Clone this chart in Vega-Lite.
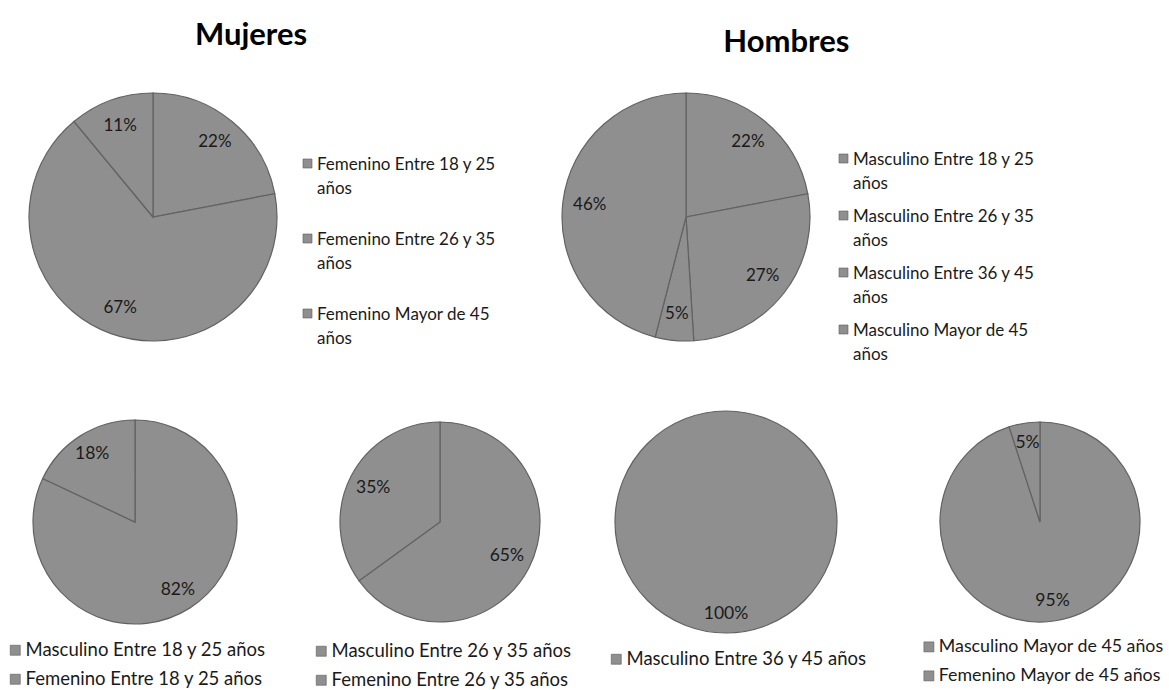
{
  "$schema": "https://vega.github.io/schema/vega-lite/v6.json",
  "background": "white",
  "padding": {"left": 6, "top": 19, "right": 0, "bottom": 0},
  "config": {
    "view": {"stroke": null},
    "font": "Lato",
    "legend": {"labelFont": "Lato", "labelColor": "#1a1a1a", "symbolType": "square", "symbolStrokeColor": "#5a5a5a", "symbolStrokeWidth": 0.6, "title": null, "padding": 0, "labelLimit": 500, "labelOffset": 1}
  },
  "data": {
    "values": [
      {"panel": "M", "cat": "Femenino Entre 18 y 25 años", "pct": 0.22, "orden": 1},
      {"panel": "M", "cat": "Femenino Entre 26 y 35 años", "pct": 0.67, "orden": 2},
      {"panel": "M", "cat": "Femenino Mayor de 45 años", "pct": 0.11, "orden": 3},
      {"panel": "H", "cat": "Masculino Entre 18 y 25 años", "pct": 0.22, "orden": 1},
      {"panel": "H", "cat": "Masculino Entre 26 y 35 años", "pct": 0.27, "orden": 2},
      {"panel": "H", "cat": "Masculino Entre 36 y 45 años", "pct": 0.05, "orden": 3},
      {"panel": "H", "cat": "Masculino Mayor de 45 años", "pct": 0.46, "orden": 4},
      {"panel": "P1", "cat": "Masculino Entre 18 y 25 años", "pct": 0.82, "orden": 1},
      {"panel": "P1", "cat": "Femenino Entre 18 y 25 años", "pct": 0.18, "orden": 2},
      {"panel": "P2", "cat": "Masculino Entre 26 y 35 años", "pct": 0.65, "orden": 1},
      {"panel": "P2", "cat": "Femenino Entre 26 y 35 años", "pct": 0.35, "orden": 2},
      {"panel": "P3", "cat": "Masculino Entre 36 y 45 años", "pct": 1.0, "orden": 1},
      {"panel": "P4", "cat": "Masculino Mayor de 45 años", "pct": 0.95, "orden": 1},
      {"panel": "P4", "cat": "Femenino Mayor de 45 años", "pct": 0.05, "orden": 2}
    ]
  },
  "spacing": 45,
  "resolve": {"scale": {"color": "independent", "theta": "independent"}, "legend": {"color": "independent"}},
  "vconcat": [
    {
      "bounds": "flush",
      "spacing": 262,
      "resolve": {"scale": {"color": "independent", "theta": "independent"}, "legend": {"color": "independent"}},
      "hconcat": [
        {
          "title": {"text": "Mujeres", "fontSize": 31, "fontWeight": "bold", "color": "#000000", "frame": "bounds", "anchor": "middle", "offset": 39},
          "width": 294, "height": 248,
          "transform": [{"filter": "datum.panel == 'M'"}],
          "encoding": {
            "theta": {"field": "pct", "type": "quantitative", "stack": true},
            "order": {"field": "orden", "type": "quantitative"},
            "color": {"field": "cat", "type": "nominal",
              "scale": {"domain": ["Femenino Entre 18 y 25 años", "Femenino Entre 26 y 35 años", "Femenino Mayor de 45 años"], "range": ["#8f8f8f", "#8f8f8f", "#8f8f8f"]},
              "legend": {"orient": "none", "legendX": 293, "legendY": 62, "labelFontSize": 17, "symbolSize": 81, "rowPadding": 33, "labelBaseline": "top",
                "labelExpr": "[replace(datum.label, ' años', ''), 'años']",
                "encode": {"labels": {"update": {"lineHeight": {"value": 24}, "dy": {"value": -7}}}}}}
          },
          "layer": [
            {"mark": {"type": "arc", "outerRadius": 124, "stroke": "#626262", "strokeWidth": 1.2}},
            {"mark": {"type": "text", "radius": 97, "fontSize": 17},
             "encoding": {"text": {"field": "pct", "type": "quantitative", "format": ".0%"}, "color": {"value": "#1a1a1a"}, "detail": {"field": "cat", "type": "nominal"}}}
          ]
        },
        {
          "title": {"text": "Hombres", "fontSize": 31, "fontWeight": "bold", "color": "#000000", "frame": "bounds", "anchor": "middle", "offset": 32, "dx": -11},
          "width": 248, "height": 248,
          "transform": [{"filter": "datum.panel == 'H'"}],
          "encoding": {
            "theta": {"field": "pct", "type": "quantitative", "stack": true},
            "order": {"field": "orden", "type": "quantitative"},
            "color": {"field": "cat", "type": "nominal",
              "scale": {"domain": ["Masculino Entre 18 y 25 años", "Masculino Entre 26 y 35 años", "Masculino Entre 36 y 45 años", "Masculino Mayor de 45 años"], "range": ["#8f8f8f", "#8f8f8f", "#8f8f8f", "#8f8f8f"]},
              "legend": {"orient": "none", "legendX": 273, "legendY": 57, "labelFontSize": 17, "symbolSize": 81, "rowPadding": 15, "labelBaseline": "top",
                "labelExpr": "[replace(datum.label, ' años', ''), 'años']",
                "encode": {"labels": {"update": {"lineHeight": {"value": 24}, "dy": {"value": -7}}}}}}
          },
          "layer": [
            {"mark": {"type": "arc", "outerRadius": 124, "stroke": "#626262", "strokeWidth": 1.2}},
            {"mark": {"type": "text", "radius": 97, "fontSize": 17},
             "encoding": {"text": {"field": "pct", "type": "quantitative", "format": ".0%"}, "color": {"value": "#1a1a1a"}, "detail": {"field": "cat", "type": "nominal"}}}
          ]
        }
      ]
    },
    {
      "bounds": "flush",
      "spacing": 83,
      "resolve": {"scale": {"color": "independent", "theta": "independent"}, "legend": {"color": "independent"}},
      "hconcat": [
        {
          "width": 258, "height": 222,
          "transform": [{"filter": "datum.panel == 'P1'"}],
          "encoding": {
            "theta": {"field": "pct", "type": "quantitative", "stack": true},
            "order": {"field": "orden", "type": "quantitative"},
            "color": {"field": "cat", "type": "nominal",
              "scale": {"domain": ["Masculino Entre 18 y 25 años", "Femenino Entre 18 y 25 años"], "range": ["#8f8f8f", "#8f8f8f"]},
              "legend": {"orient": "none", "legendX": 0, "legendY": 230, "labelFontSize": 18.5, "symbolSize": 100, "rowPadding": 10}}
          },
          "layer": [
            {"mark": {"type": "arc", "outerRadius": 102, "stroke": "#626262", "strokeWidth": 1.2}},
            {"mark": {"type": "text", "radius": 80, "fontSize": 17.5},
             "encoding": {"text": {"field": "pct", "type": "quantitative", "format": ".0%"}, "color": {"value": "#1a1a1a"}, "detail": {"field": "cat", "type": "nominal"}}}
          ]
        },
        {
          "width": 186, "height": 222,
          "transform": [{"filter": "datum.panel == 'P2'"}],
          "encoding": {
            "theta": {"field": "pct", "type": "quantitative", "stack": true},
            "order": {"field": "orden", "type": "quantitative"},
            "color": {"field": "cat", "type": "nominal",
              "scale": {"domain": ["Masculino Entre 26 y 35 años", "Femenino Entre 26 y 35 años"], "range": ["#8f8f8f", "#8f8f8f"]},
              "legend": {"orient": "none", "legendX": -35, "legendY": 231, "labelFontSize": 18.5, "symbolSize": 100, "rowPadding": 10}}
          },
          "layer": [
            {"mark": {"type": "arc", "outerRadius": 100, "stroke": "#626262", "strokeWidth": 1.2}},
            {"mark": {"type": "text", "radius": 75, "fontSize": 17.5},
             "encoding": {"text": {"field": "pct", "type": "quantitative", "format": ".0%"}, "color": {"value": "#1a1a1a"}, "detail": {"field": "cat", "type": "nominal"}}}
          ]
        },
        {
          "width": 220, "height": 222,
          "transform": [{"filter": "datum.panel == 'P3'"}],
          "encoding": {
            "theta": {"field": "pct", "type": "quantitative", "stack": true},
            "order": {"field": "orden", "type": "quantitative"},
            "color": {"field": "cat", "type": "nominal",
              "scale": {"domain": ["Masculino Entre 36 y 45 años"], "range": ["#8f8f8f"]},
              "legend": {"orient": "none", "legendX": -9, "legendY": 239, "labelFontSize": 18.5, "symbolSize": 100, "rowPadding": 10}}
          },
          "layer": [
            {"mark": {"type": "arc", "outerRadius": 111, "stroke": "#626262", "strokeWidth": 1.2}},
            {"mark": {"type": "text", "radius": 92, "fontSize": 17.5},
             "encoding": {"text": {"field": "pct", "type": "quantitative", "format": ".0%"}, "color": {"value": "#1a1a1a"}, "detail": {"field": "cat", "type": "nominal"}}}
          ]
        },
        {
          "width": 242, "height": 222,
          "transform": [{"filter": "datum.panel == 'P4'"}],
          "encoding": {
            "theta": {"field": "pct", "type": "quantitative", "stack": true},
            "order": {"field": "orden", "type": "quantitative"},
            "color": {"field": "cat", "type": "nominal",
              "scale": {"domain": ["Masculino Mayor de 45 años", "Femenino Mayor de 45 años"], "range": ["#8f8f8f", "#8f8f8f"]},
              "legend": {"orient": "none", "legendX": 1, "legendY": 227, "labelFontSize": 17.8, "symbolSize": 100, "rowPadding": 10}}
          },
          "layer": [
            {"mark": {"type": "arc", "outerRadius": 100, "stroke": "#626262", "strokeWidth": 1.2}},
            {"mark": {"type": "text", "radius": 80, "fontSize": 17.5},
             "encoding": {"text": {"field": "pct", "type": "quantitative", "format": ".0%"}, "color": {"value": "#1a1a1a"}, "detail": {"field": "cat", "type": "nominal"}}}
          ]
        }
      ]
    }
  ]
}
